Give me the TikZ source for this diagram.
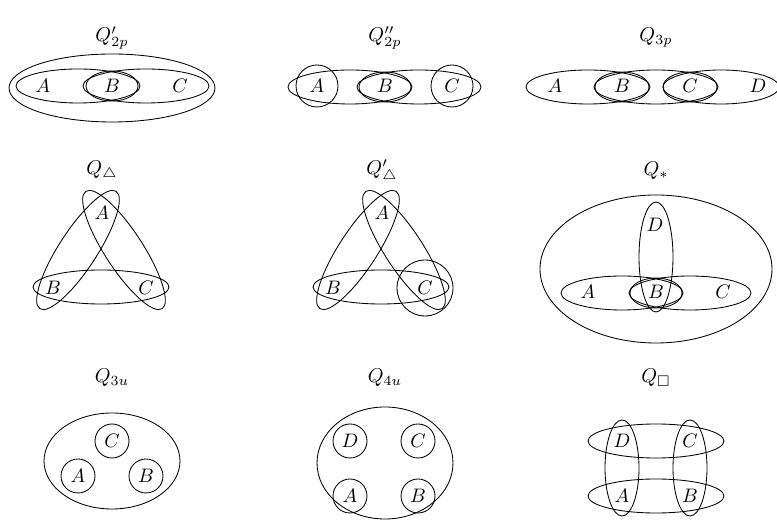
\documentclass[tikz,border=0pt]{standalone}
\usepackage{amssymb}
\begin{document}
\begin{tikzpicture}[x=1pt,y=1pt,line width=0.85pt,
  lab/.style={inner sep=0pt,scale=1.95},
  ttl/.style={inner sep=0pt,scale=2.0}]
\useasboundingbox (0,0) rectangle (777,527);
% ---------- Row 1 ----------
\node[ttl] (t1) at (112,489) {$Q'_{2p}$};
\draw (112,439) ellipse [x radius=103,y radius=34];
\draw (78,441) ellipse [x radius=62,y radius=17];
\draw (146,441) ellipse [x radius=63,y radius=17];
\draw (112,441) ellipse [x radius=26,y radius=15];
\node[lab] (a1) at (43,441) {$A$};
\node[lab] (b1) at (112,441) {$B$};
\node[lab] (c1) at (180,441) {$C$};

\node[ttl] (t2) at (385,489) {$Q''_{2p}$};
\draw (350,440) ellipse [x radius=62,y radius=17];
\draw (419,440) ellipse [x radius=62,y radius=17];
\draw (385,440) ellipse [x radius=26,y radius=15];
\draw (317,441) circle [radius=21];
\draw (452,441) circle [radius=21];
\node[lab] (a2) at (317,441) {$A$};
\node[lab] (b2) at (385,441) {$B$};
\node[lab] (c2) at (452,441) {$C$};

\node[ttl] (t3) at (656,489) {$Q_{3p}$};
\draw (588,440) ellipse [x radius=62,y radius=17];
\draw (656,440) ellipse [x radius=62,y radius=17];
\draw (721,440) ellipse [x radius=58,y radius=17];
\draw (622,440) ellipse [x radius=27,y radius=15];
\draw (690,440) ellipse [x radius=27,y radius=15];
\node[lab] (a3) at (555,441) {$A$};
\node[lab] (b3) at (622,441) {$B$};
\node[lab] (c3) at (690,441) {$C$};
\node[lab] (d3) at (758,441) {$D$};

% ---------- Row 2 ----------
\node[ttl] (t4) at (102,356) {$Q_{\triangle}$};
\draw (101,240) ellipse [x radius=68,y radius=17];
\draw[rotate around={57:(78,277)}] (78,277) ellipse [x radius=70,y radius=19];
\draw[rotate around={-57:(124,277)}] (124,277) ellipse [x radius=70,y radius=19];
\node[lab] (a4) at (102,314) {$A$};
\node[lab] (b4) at (53,239) {$B$};
\node[lab] (c4) at (146,239) {$C$};

\node[ttl] (t5) at (382,356) {$Q'_{\triangle}$};
\draw (381,240) ellipse [x radius=68,y radius=17];
\draw[rotate around={57:(358,277)}] (358,277) ellipse [x radius=70,y radius=19];
\draw[rotate around={-57:(404,277)}] (404,277) ellipse [x radius=70,y radius=19];
\draw (425,239) circle [radius=28];
\node[lab] (a5) at (382,314) {$A$};
\node[lab] (b5) at (333,239) {$B$};
\node[lab] (c5) at (425,239) {$C$};

\node[ttl] (t6) at (656,356) {$Q_{\ast}$};
\draw (656,258) ellipse [x radius=116,y radius=74];
\draw (656,270) ellipse [x radius=17,y radius=55];
\draw (622,234) ellipse [x radius=61,y radius=17];
\draw (690,234) ellipse [x radius=61,y radius=17];
\draw (656,234) ellipse [x radius=26,y radius=15];
\node[lab] (d6) at (655,302) {$D$};
\node[lab] (a6) at (588,235) {$A$};
\node[lab] (b6) at (656,235) {$B$};
\node[lab] (c6) at (723,235) {$C$};

% ---------- Row 3 ----------
\node[ttl] (t7) at (112,149) {$Q_{3u}$};
\draw (112,66) ellipse [x radius=68,y radius=48];
\draw (112,86) circle [radius=17];
\draw (78,51) circle [radius=17];
\draw (146,51) circle [radius=17];
\node[lab] (c7) at (112,86) {$C$};
\node[lab] (a7) at (78,51) {$A$};
\node[lab] (b7) at (146,51) {$B$};

\node[ttl] (t8) at (385,149) {$Q_{4u}$};
\draw (385,64) ellipse [x radius=68,y radius=56];
\draw (350,86) circle [radius=17];
\draw (418,86) circle [radius=17];
\draw (350,31) circle [radius=17];
\draw (418,31) circle [radius=17];
\node[lab] (d8) at (350,86) {$D$};
\node[lab] (c8) at (418,86) {$C$};
\node[lab] (a8) at (350,31) {$A$};
\node[lab] (b8) at (418,31) {$B$};

\node[ttl] (t9) at (656,149) {$Q_{\square}$};
\draw (656,86) ellipse [x radius=68,y radius=17];
\draw (656,31) ellipse [x radius=68,y radius=17];
\draw (622,59) ellipse [x radius=17,y radius=48];
\draw (690,59) ellipse [x radius=17,y radius=48];
\node[lab] (d9) at (622,86) {$D$};
\node[lab] (c9) at (690,86) {$C$};
\node[lab] (a9) at (622,31) {$A$};
\node[lab] (b9) at (690,31) {$B$};
\end{tikzpicture}
\end{document}
